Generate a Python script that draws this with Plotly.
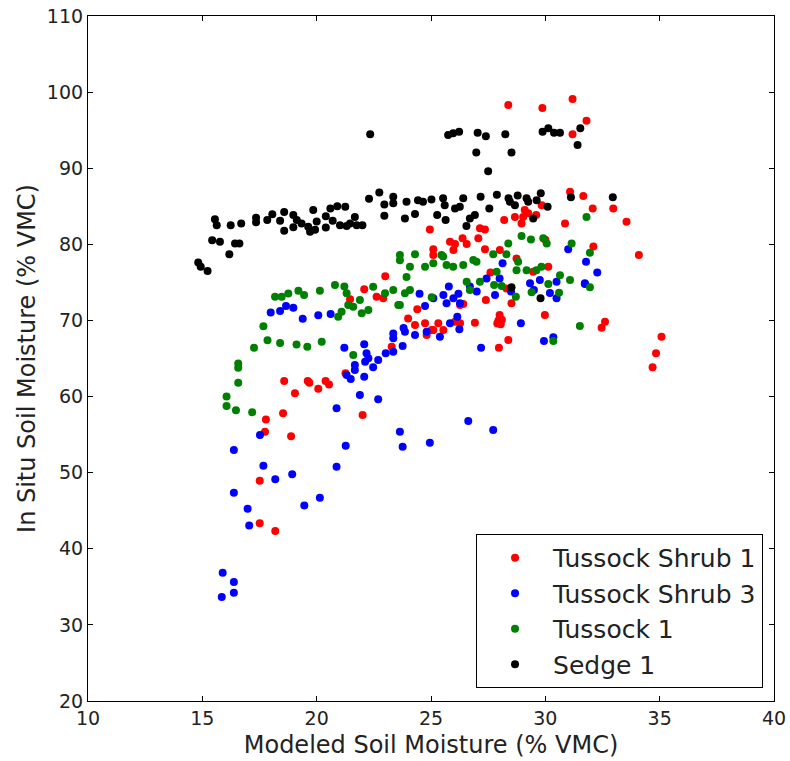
import plotly.graph_objects as go

# Tussock Shrub 1
ts1_x = [28.38, 29.87, 31.19, 31.8, 31.19, 31.08, 31.66, 32.97, 32.07, 30.86, 32.1,
         29.1, 29.03, 28.96, 29.25, 29.6, 29.84, 28.67, 28.2, 24.95, 27.14, 27.36, 26.38,
         25.83, 26.05, 25.98, 26.56, 27.07, 27.36, 25.1, 25.1, 30.13, 29.47, 28.01, 28.74,
         33.55, 34.09, 35.08, 34.84, 34.69,
         22.08, 21.46, 22.62, 22.91, 23.28, 18.58, 19.61, 19.68, 20.39, 20.54, 20.07, 19.05,
         21.26, 17.78, 17.74, 18.53, 18.88, 22.01, 17.51, 17.51, 18.19,
         24.4, 24.0, 24.3, 24.74, 25.03, 25.32, 25.54, 26.05, 26.27, 24.81, 25.1, 26.27,
         26.41, 26.92, 27.4, 27.9, 28.0, 28.1, 27.95, 28.05, 28.38, 27.97, 28.52, 29.98,
         32.61, 32.46, 23.0, 30.0, 28.3, 27.6]
ts1_y = [98.3, 97.9, 99.1, 96.25, 94.45, 86.9, 86.35, 84.7, 84.7, 82.75, 79.7,
         84.5, 83.6, 82.75, 84.1, 83.85, 85.15, 83.6, 83.2, 81.95, 82.1, 81.95, 80.8,
         80.35, 80.05, 79.25, 80.05, 80.8, 79.35, 79.35, 78.6, 77.05, 76.4, 79.25, 78.15,
         82.97, 78.6, 67.86, 65.68, 63.84,
         74.1, 72.8, 73.1, 72.9, 66.55, 62.04, 62.04, 61.81, 62.04, 61.6, 61.02, 60.42,
         63.05, 57.0, 55.38, 57.8, 54.8, 57.57, 48.94, 43.34, 42.33,
         71.46, 70.27, 69.39, 69.62, 68.74, 69.62, 68.74, 69.83, 69.62, 68.08, 68.74, 72.02,
         72.15, 69.7, 72.68, 69.6, 70.7, 70.1, 70.0, 69.5, 67.42, 66.41, 72.25, 70.71,
         69.83, 69.04, 75.8, 80.6, 74.2, 76.3]

# Tussock Shrub 3
ts3_x = [31.0, 31.78, 32.27, 28.13, 29.33, 29.76, 30.49, 31.73, 25.78, 26.7, 27.43,
         17.99, 18.4, 18.66, 18.98, 19.39, 20.07, 20.61, 23.35, 23.35, 21.21, 22.08, 22.18,
         22.26, 22.69, 23.02, 23.35, 21.67, 21.67, 21.31, 21.49, 22.08, 21.89, 22.69, 20.87,
         17.52, 16.38, 21.27, 23.64, 22.12, 22.47,
         17.67, 18.19, 18.93, 20.87, 16.38, 16.98, 17.05, 19.46, 20.14, 15.89, 16.38, 16.38, 15.85,
         24.74, 25.1, 25.54, 25.98, 26.27, 25.68, 23.86, 24.3, 24.81, 25.39, 23.76, 25.83,
         26.24, 26.15, 27.19, 28.93, 29.94, 30.35, 26.63, 27.72, 24.95, 23.76, 27.8, 30.49,
         31.73, 26.2, 27.0, 28.5, 29.5, 30.2, 24.5, 23.8, 28.0]
ts3_y = [79.35, 77.7, 76.3, 77.5, 74.9, 75.3, 75.1, 74.9, 74.45, 74.45, 75.5,
         71.06, 71.24, 71.9, 71.67, 70.22, 70.67, 70.84, 68.3, 67.65, 66.41, 66.86, 65.68,
         65.02, 64.8, 65.68, 65.89, 64.14, 63.48, 62.83, 62.3, 62.6, 60.2, 59.63, 58.45,
         54.94, 52.97, 53.53, 55.37, 64.57, 63.84,
         50.91, 49.12, 49.78, 50.78, 47.36, 45.26, 43.07, 45.7, 46.7, 36.85, 35.62, 34.22, 33.65,
         71.89, 72.9, 73.34, 72.9, 72.25, 72.25, 68.52, 68.08, 68.52, 67.86, 66.63, 69.62,
         68.83, 70.49, 66.41, 69.62, 67.29, 67.78, 56.78, 55.6, 53.93, 53.4, 73.34, 72.9,
         74.78, 73.5, 73.8, 73.8, 74.0, 73.6, 73.5, 69.0, 75.5]

# Tussock 1
t1_x = [31.8, 28.96, 29.37, 29.91, 30.06, 28.38, 31.15, 31.95, 23.64, 24.3, 27.72, 28.3,
        25.46, 25.53, 26.85, 26.99, 24.08, 24.74, 25.1, 25.68, 25.97, 26.41, 28.81, 29.18,
        29.61, 29.83, 28.74, 27.87, 27.14, 30.64, 31.08, 23.93, 23.64,
        18.18, 18.47, 18.76, 19.2, 19.45, 20.14, 20.8, 21.21, 17.67, 17.85, 18.4, 19.12,
        19.59, 20.22, 17.26, 16.57, 16.57, 16.57, 16.06, 16.06, 16.47, 17.18, 21.6, 20.94,
        21.09, 21.38, 21.6, 21.97, 21.89, 22.26, 21.31, 22.47, 22.99, 23.35, 23.57,
        31.51, 30.35, 31.95, 30.6, 30.13, 29.4, 28.71, 27.76, 28.09, 26.56, 26.7, 25.03,
        24.08, 23.64, 23.86]
t1_y = [83.6, 81.1, 80.65, 80.8, 80.1, 80.1, 80.1, 78.9, 78.6, 78.7, 78.7, 78.7,
        78.6, 78.4, 77.95, 77.7, 77.05, 77.05, 77.5, 77.3, 77.05, 77.3, 77.7, 76.6,
        76.6, 77.05, 76.6, 76.4, 75.1, 75.95, 75.3, 75.7, 77.9,
        73.1, 73.1, 73.55, 73.9, 73.35, 73.9, 74.65, 74.45, 69.25, 67.4, 67.05, 66.85,
        66.55, 67.2, 66.4, 64.35, 63.8, 61.8, 60.0, 58.75, 58.2, 57.95, 65.45, 70.49,
        71.14, 72.02, 71.8, 70.93, 72.68, 71.37, 73.56, 74.43, 73.56, 74.0, 72.02,
        69.26, 67.29, 74.35, 73.64, 74.78, 73.69, 73.12, 74.65, 74.52, 75.09, 74.0, 73.04,
        74.0, 72.02, 73.56]

# Sedge 1
s1_x = [22.34, 22.74, 22.29, 23.35, 22.96, 23.35, 22.96, 15.55, 15.63, 16.24, 16.7,
        17.35, 17.35, 17.84, 18.06, 18.4, 18.58, 18.58, 18.98, 18.98, 19.13, 19.34, 19.63,
        19.71, 19.85, 19.93, 20.0, 20.4, 20.4, 20.6, 20.7, 20.9, 21.25, 21.02, 21.31, 21.46,
        21.67, 21.75, 22.0, 15.43, 15.77, 16.43, 16.62, 16.18, 14.82, 14.93, 15.23,
        25.75, 25.97, 26.23, 27.04, 27.4, 28.25, 26.98, 28.52, 27.5, 29.88, 30.13, 30.38,
        30.64, 31.53, 31.41,
        23.93, 24.43, 24.65, 25.02, 25.53, 25.6, 26.41, 26.26, 27.17, 27.88, 28.39, 28.79,
        29.18, 29.62, 29.8, 30.1, 31.12, 32.95,
        23.86, 24.3, 25.27, 25.64, 26.05, 26.55, 26.7, 26.92, 27.55, 28.45, 28.67, 29.25,
        29.47, 28.52, 29.79]
s1_y = [94.45, 86.8, 86.0, 86.25, 85.25, 85.4, 83.75, 83.3, 82.5, 82.5, 82.75,
        83.5, 82.9, 83.2, 83.95, 83.1, 84.25, 81.8, 83.85, 82.25, 83.2, 82.75, 82.3,
        81.65, 84.5, 81.9, 83.0, 83.7, 82.2, 84.7, 83.1, 85.0, 84.95, 82.5, 82.4, 82.75,
        83.6, 82.5, 82.5, 80.55, 80.35, 80.1, 80.1, 78.7, 77.6, 77.05, 76.5,
        94.35, 94.6, 94.8, 94.65, 94.2, 94.45, 92.05, 92.05, 89.6, 94.8, 95.25, 94.65,
        94.65, 95.25, 93.05,
        85.6, 85.8, 85.6, 85.9, 86.05, 85.15, 86.05, 84.95, 86.25, 86.5, 86.05, 86.4,
        86.05, 85.8, 86.7, 84.95, 86.2, 86.2,
        83.4, 84.0, 83.85, 83.2, 84.7, 82.4, 83.4, 83.85, 84.7, 85.6, 85.15, 85.6,
        83.4, 74.35, 72.9]

series = [
    ("Tussock Shrub 1", ts1_x, ts1_y, "#ff0000"),
    ("Tussock Shrub 3", ts3_x, ts3_y, "#0000ff"),
    ("Tussock 1", t1_x, t1_y, "#008000"),
    ("Sedge 1", s1_x, s1_y, "#000000"),
]

fig = go.Figure()
for name, xs, ys, col in series:
    fig.add_trace(go.Scatter(x=xs, y=ys, mode="markers", name=name,
                             marker=dict(color=col, size=8, line=dict(width=0))))

axis_style = dict(showline=True, linecolor="black", linewidth=1.2, mirror="allticks",
                  ticks="inside", ticklen=5, tickcolor="black", showgrid=False,
                  zeroline=False, automargin=False, ticklabeloverflow="allow",
                  tickfont=dict(size=19, color="#222"))

fig.update_xaxes(range=[10, 40], dtick=5,
                 title=dict(text="Modeled Soil Moisture (% VMC)", font=dict(size=24, color="#222"), standoff=8),
                 **axis_style)
fig.update_yaxes(range=[20, 110], dtick=10,
                 title=dict(text="In Situ Soil Moisture (% VMC)", font=dict(size=24, color="#222"), standoff=4),
                 **axis_style)

fig.update_layout(
    width=790, height=761,
    margin=dict(l=88, r=16, t=16, b=60),
    plot_bgcolor="white", paper_bgcolor="white",
    font=dict(family="DejaVu Sans"),
    legend=dict(x=0.984, xanchor="right", y=0.019, yanchor="bottom",
                bordercolor="black", borderwidth=1, bgcolor="white",
                font=dict(size=25, color="#222"), itemwidth=66),
)

# drop the default 8px body margin so the figure sits at the window corner
fig.write_html("out.html", config={"displayModeBar": False},
               post_script="document.body.style.margin='0';")
